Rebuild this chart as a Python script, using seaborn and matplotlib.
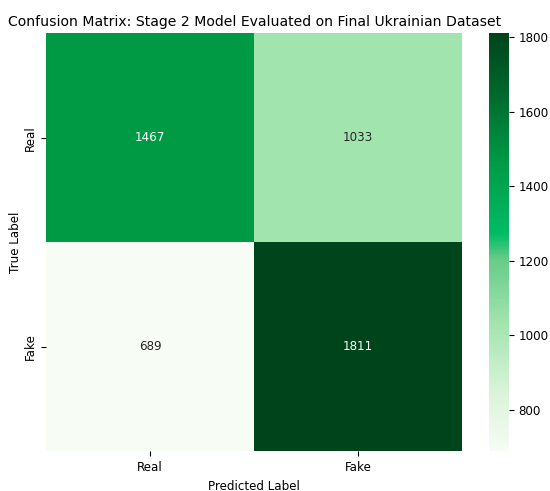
import matplotlib.pyplot as plt
import seaborn as sns
import numpy as np
from matplotlib.colors import LinearSegmentedColormap

labels = ["Real", "Fake"]
cm = np.array([[1467, 1033],
               [689, 1811]])

# saturated green ramp, close to the look of the reference
greens = LinearSegmentedColormap.from_list("vivid_greens", [
    (0.0, "#f7fcf5"),
    (0.15, "#d6f3d6"),
    (0.307, "#a2e4ae"),
    (0.46, "#66cc88"),
    (0.52, "#00bc64"),
    (0.693, "#009a45"),
    (0.85, "#006a2e"),
    (1.0, "#00441b"),
])

fig = plt.figure(figsize=(5.5, 4.91), dpi=100)
ax = fig.add_axes([0.084, 0.081, 0.756, 0.851])
cax = fig.add_axes([0.889, 0.081, 0.036, 0.851])
sns.heatmap(cm, annot=True, fmt="d", cmap=greens, xticklabels=labels,
            yticklabels=labels, ax=ax, cbar_ax=cax, annot_kws={"fontsize": 8.6})
ax.set_xlabel("Predicted Label", fontsize=8.6)
ax.set_ylabel("True Label", fontsize=8.6, labelpad=1)
ax.set_title("Confusion Matrix: Stage 2 Model Evaluated on Final Ukrainian Dataset",
             fontsize=10.1, pad=5)
ax.tick_params(labelsize=8.6)
cax.tick_params(labelsize=8.6)
plt.savefig("out.png")
plt.close()
